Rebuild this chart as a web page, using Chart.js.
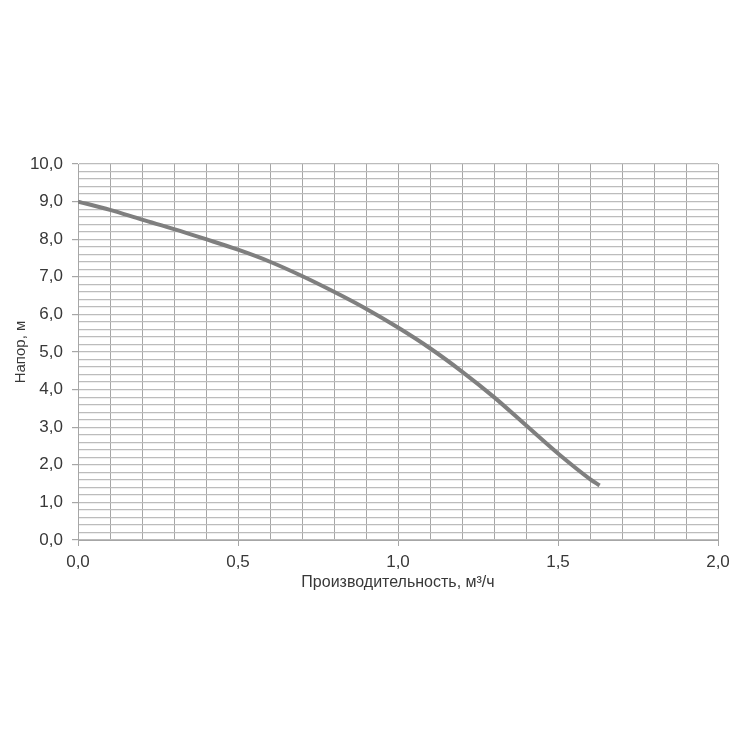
<!DOCTYPE html>
<html>
<head>
<meta charset="utf-8">
<script src="https://cdn.jsdelivr.net/npm/chart.js@4"></script>
<style>
  html, body { margin: 0; padding: 0; background: #fff; }
  #wrap { width: 750px; height: 750px; }
</style>
</head>
<body>
<div id="wrap"><canvas id="pumpChart" width="750" height="750"></canvas></div>
<script>
// подача, м3/ч
const flowValues = [0, 0.1, 0.2, 0.3, 0.4, 0.5, 0.6, 0.7, 0.8, 0.9, 1.0, 1.1, 1.2, 1.3, 1.4, 1.5, 1.6, 1.63];
// напор, м
const headValues = [9.0, 8.78, 8.52, 8.27, 8.0, 7.72, 7.4, 7.02, 6.6, 6.15, 5.65, 5.1, 4.48, 3.8, 3.05, 2.3, 1.62, 1.45];

const xTickValues = [0, 0.5, 1.0, 1.5, 2.0];
const xTickLabels = ['0,0', '0,5', '1,0', '1,5', '2,0'];
const yTickValues = [0, 1, 2, 3, 4, 5, 6, 7, 8, 9, 10];
const yTickLabels = ['0,0', '1,0', '2,0', '3,0', '4,0', '5,0', '6,0', '7,0', '8,0', '9,0', '10,0'];

const xTitle = 'Производительность, м³/ч';
const yTitle = 'Напор, м';

const textColor = '#383838';
const vGridColor = '#a6a6a6';
const hGridColor = '#bcbcbc';
const fontFamily = '"Liberation Sans", Arial, sans-serif';

function findLabel(values, labels, v) {
    const idx = values.findIndex(t => Math.abs(t - v) < 1e-6);
    return idx >= 0 ? labels[idx] : '';
}

const points = flowValues.map((x, i) => ({ x: x, y: headValues[i] }));

const ctx = document.getElementById('pumpChart');
new Chart(ctx, {
    type: 'line',
    data: {
        datasets: [{
            data: points,
            borderColor: '#7f7f7f',
            borderWidth: 4,
            pointRadius: 0,
            cubicInterpolationMode: 'monotone',
            fill: false
        }]
    },
    options: {
        responsive: false,
        animation: false,
        layout: { padding: { top: 164, right: 32, left: 0, bottom: 0 } },
        plugins: {
            legend: { display: false },
            tooltip: { enabled: false }
        },
        scales: {
            x: {
                type: 'linear',
                min: 0,
                max: 2,
                afterFit: scale => { scale.height = 210; },
                ticks: {
                    stepSize: 0.1,
                    autoSkip: false,
                    maxRotation: 0,
                    padding: 6,
                    color: textColor,
                    font: { family: fontFamily, size: 17 },
                    callback: v => findLabel(xTickValues, xTickLabels, v)
                },
                grid: {
                    color: vGridColor,
                    lineWidth: 1,
                    tickLength: 6,
                    tickColor: c => findLabel(xTickValues, xTickLabels, c.tick.value) ? vGridColor : 'rgba(0,0,0,0)'
                },
                border: { color: vGridColor },
                title: {
                    display: true,
                    text: xTitle,
                    color: textColor,
                    font: { family: fontFamily, size: 16 },
                    padding: { top: 0, bottom: 158 }
                }
            },
            y: {
                min: 0,
                max: 10,
                afterFit: scale => { scale.width = 78; },
                ticks: {
                    stepSize: 0.2,
                    autoSkip: false,
                    padding: 9,
                    color: textColor,
                    font: { family: fontFamily, size: 17 },
                    callback: v => findLabel(yTickValues, yTickLabels, v)
                },
                grid: {
                    color: hGridColor,
                    lineWidth: 1.2,
                    tickLength: 6,
                    tickColor: c => findLabel(yTickValues, yTickLabels, c.tick.value) ? vGridColor : 'rgba(0,0,0,0)'
                },
                border: { color: vGridColor },
                title: {
                    display: true,
                    text: yTitle,
                    color: textColor,
                    font: { family: fontFamily, size: 15 },
                    padding: { top: 12, bottom: 0 }
                }
            }
        }
    }
});
</script>
</body>
</html>
